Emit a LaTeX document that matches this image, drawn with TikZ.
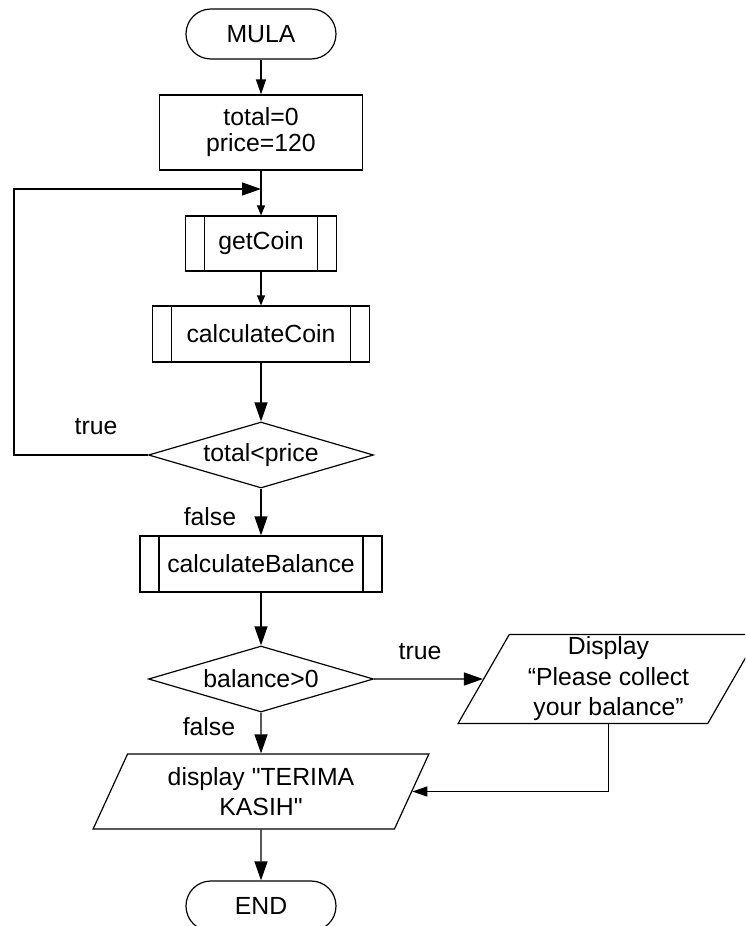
\documentclass[tikz,border=0pt]{standalone}
\usepackage{fontspec}
\setmainfont{Liberation Sans}
\usetikzlibrary{shapes.geometric,arrows.meta}
\begin{document}
\begin{tikzpicture}[x=1pt,y=-1pt,
  every node/.style={font=\fontsize{24.8}{26}\selectfont},
  outline/.style={draw=black, line width=1.2pt},
  terminal/.style={outline, rectangle, rounded corners=24.9pt,
    minimum width=150pt, minimum height=50pt, inner sep=0pt},
  procbox/.style={outline, rectangle, inner sep=0pt, align=center},
  subproc/.style={outline, rectangle, inner sep=0pt,
    path picture={
      \draw[line width=1.2pt]
        ([xshift=19pt]path picture bounding box.north west) --
        ([xshift=19pt]path picture bounding box.south west)
        ([xshift=-19pt]path picture bounding box.north east) --
        ([xshift=-19pt]path picture bounding box.south east);}},
  decision/.style={outline, diamond, aspect=3.4, inner sep=0pt,
    minimum width=225pt, minimum height=66pt},
  iobox/.style={outline, trapezium, trapezium left angle=63.7,
    trapezium right angle=116.3, trapezium stretches=true,
    inner sep=0pt, align=center,
    font=\fontsize{24.8}{30.5}\selectfont},
  lbl/.style={inner sep=0pt},
  flow/.style={line width=1.2pt, -{Triangle[length=19pt,width=13pt]}},
  flowmid/.style={line width=1.2pt, -{Triangle[length=15pt,width=10pt]}},
  flowsmall/.style={line width=1.2pt, -{Triangle[length=10pt,width=8pt]}},
]
\useasboundingbox (0,0) rectangle (745,926);
\clip (0,0) rectangle (745,926);

% main column
\node[terminal] (start) at (261,34) {MULA};
\node[procbox, minimum width=203pt, minimum height=75pt] (init) at (261,132.5)
  {total=0\\price=120};
\node[subproc, minimum width=151pt, minimum height=55pt] (getc) at (261,243.5) {getCoin};
\node[subproc, minimum width=217pt, minimum height=56pt] (calcc) at (261,334) {calculateCoin};
\node[decision] (chk) at (261,455) {total<price};
\node[subproc, minimum width=242pt, minimum height=56pt] (calcb) at (261,564) {calculateBalance};
\node[decision] (bal) at (261,679) {balance>0};
\node[iobox, minimum width=301pt, minimum height=89pt] (disp) at (608.5,679)
  {Display\\“Please collect\\your balance”};
\node[iobox, minimum width=336pt, minimum height=75pt] (thanks) at (261,791.5)
  {display \textquotedbl TERIMA\\KASIH\textquotedbl};
\node[terminal] (stop) at (261,906) {END};

% branch labels
\node[lbl] (ltrue1) at (96,427) {true};
\node[lbl] (lfalse1) at (210,517) {false};
\node[lbl] (ltrue2) at (420,652) {true};
\node[lbl] (lfalse2) at (209,727) {false};

% loop-back path
\coordinate (join) at (261,189);
\coordinate (loopcorner) at (14,189);

% connectors
\draw[flowmid] (start.south) -- (init.north);
\draw[flowsmall] (init.south) -- (getc.north);
\draw[flow] (chk.west) -| (loopcorner) -- (join);
\draw[flowsmall] (getc.south) -- (calcc.north);
\draw[flow] (calcc.south) -- (chk.north);
\draw[flow] (chk.south) -- (calcb.north);
\draw[flow] (calcb.south) -- (bal.north);
\draw[flow] (bal.east) -- (disp.west);
\draw[flow] (bal.south) -- (thanks.north);
\draw[flowmid] (disp.south -| disp.center) |- (thanks.east);
\draw[flow] (thanks.south) -- (stop.north);
\end{tikzpicture}
\end{document}
